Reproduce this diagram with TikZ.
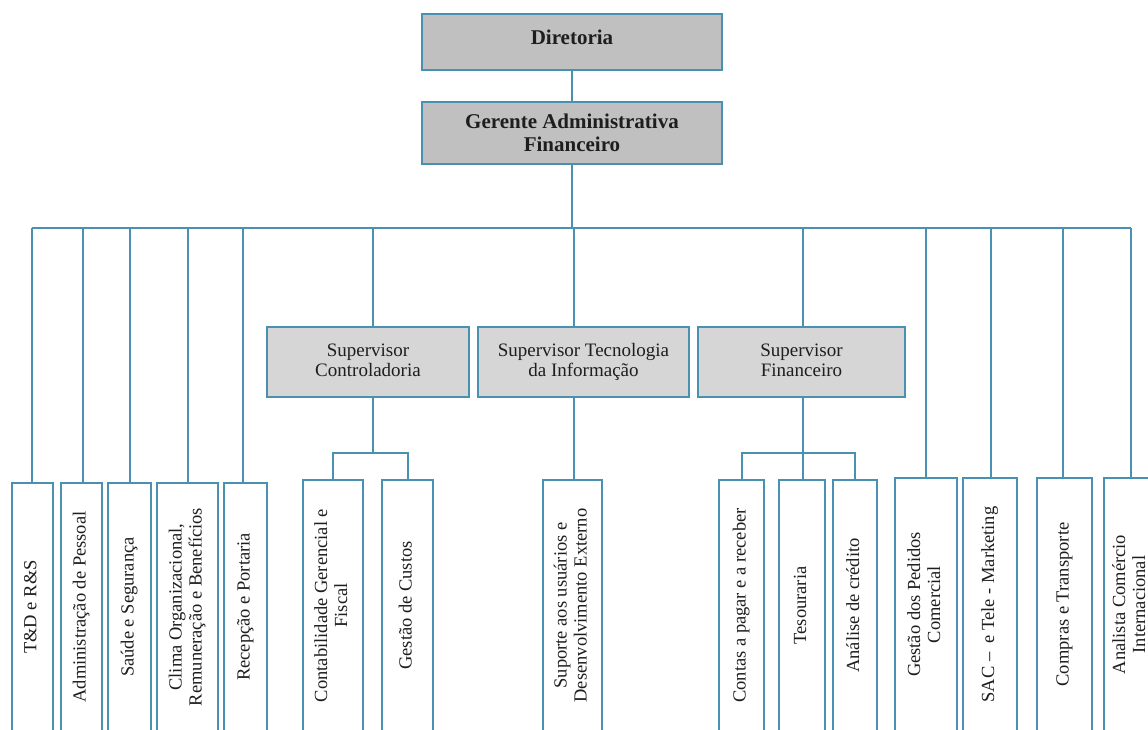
\documentclass[tikz,border=0pt]{standalone}
\usepackage{fontspec}
\setmainfont{Liberation Serif}
\usepackage{graphicx}
\definecolor{edge}{RGB}{74,144,176}
\definecolor{topfill}{RGB}{192,192,192}
\definecolor{supfill}{RGB}{214,214,214}
\definecolor{ink}{RGB}{30,30,30}
% vertical (bottom-to-top) label, one or more centred lines
\newcommand\vtext[1]{\rotatebox{90}{\begin{tabular}{@{}c@{}}#1\end{tabular}}}

\begin{document}
\begin{tikzpicture}[x=1pt,y=-1pt,
  box/.style={draw=edge, line width=1.2pt, inner sep=0pt, outer sep=0pt, rectangle, text=ink},
  topbox/.style={box, fill=topfill, font=\fontsize{21}{23}\selectfont\bfseries, align=center},
  supbox/.style={box, fill=supfill, font=\fontsize{19}{20}\selectfont, align=center},
  unitbox/.style={box, fill=white, font=\fontsize{18.5}{20}\selectfont},
  leftunit/.style={unitbox, minimum height=248pt},
  midunit/.style={unitbox, minimum height=251pt},
  rightunit/.style={unitbox, minimum height=253pt},
  link/.style={draw=edge, line width=1.3pt}]

\useasboundingbox (0,0) rectangle (1148,729);
\fill[white] (0,0) rectangle (1148,729);
\clip (0,0) rectangle (1148,729);

% management
\node[topbox, minimum width=300pt, minimum height=56pt] (dir) at (572,42) {\raisebox{9pt}{Diretoria}};
\node[topbox, minimum width=300pt, minimum height=62pt] (ger) at (572,133) {Gerente Administrativa\\Financeiro};

% supervisors
\node[supbox, minimum width=202pt, minimum height=70pt] (sc) at (368,362) {\raisebox{7pt}{\begin{tabular}{@{}c@{}}Supervisor\\Controladoria\end{tabular}}};
\node[supbox, minimum width=211pt, minimum height=70pt] (sti) at (583.5,362) {\raisebox{7pt}{\begin{tabular}{@{}c@{}}Supervisor Tecnologia\\da Informação\end{tabular}}};
\node[supbox, minimum width=207pt, minimum height=70pt] (sf) at (801.5,362) {\raisebox{7pt}{\begin{tabular}{@{}c@{}}Supervisor\\Financeiro\end{tabular}}};

% units reporting directly to the manager (left)
\node[leftunit, minimum width=41pt] (tdrs) at (32.5,607) {\vtext{T\&D e R\&S}};
\node[leftunit, minimum width=41pt] (adm) at (81.5,607) {\vtext{Administração de Pessoal}};
\node[leftunit, minimum width=43pt] (saude) at (129.5,607) {\vtext{Saúde e Segurança}};
\node[leftunit, minimum width=61pt] (clima) at (187.5,607) {\vtext{Clima Organizacional,\\Remuneração e Benefícios}};
\node[leftunit, minimum width=43pt] (recep) at (245.5,607) {\vtext{Recepção e Portaria}};

% units under the supervisors
\node[midunit, minimum width=60pt] (cont) at (333,605.5) {\vtext{Contabilidade Gerencial e\\Fiscal}};
\node[midunit, minimum width=51pt] (custos) at (407.5,605.5) {\vtext{Gestão de Custos}};
\node[midunit, minimum width=59pt] (suporte) at (572.5,605.5) {\vtext{Suporte aos usuários e\\Desenvolvimento Externo}};
\node[midunit, minimum width=45pt] (contas) at (741.5,605.5) {\vtext{Contas a pagar e a receber}};
\node[midunit, minimum width=46pt] (tes) at (802,605.5) {\vtext{Tesouraria}};
\node[midunit, minimum width=44pt] (anal) at (855,605.5) {\vtext{Análise de crédito}};

% units reporting directly to the manager (right)
\node[rightunit, minimum width=62pt] (ped) at (926,604.5) {\vtext{Gestão dos Pedidos\\Comercial}};
\node[rightunit, minimum width=54pt] (sac) at (990,604.5) {\vtext{SAC –\ \ e Tele - Marketing}};
\node[rightunit, minimum width=55pt] (compras) at (1064.5,604.5) {\vtext{Compras e Transporte}};
\node[rightunit, minimum width=54pt] (intl) at (1131,604.5) {\vtext{Analista Comércio\\Internacional}};

% bus, drop columns and junction points
\coordinate (busL) at (32,228);
\coordinate (busR) at (1131,228);
\coordinate (xtd) at (32,228);
\coordinate (xad) at (83,228);
\coordinate (xsa) at (130,228);
\coordinate (xcl) at (188,228);
\coordinate (xrc) at (243,228);
\coordinate (xsc) at (373,228);
\coordinate (xti) at (574,228);
\coordinate (xpd) at (926,228);
\coordinate (xsac) at (991,228);
\coordinate (xcp) at (1063,228);
\coordinate (xin) at (1131,228);
\coordinate (jc) at (373,453);
\coordinate (jf) at (803,453);
\coordinate (jcl) at (333,453);
\coordinate (jcr) at (408,453);
\coordinate (jfl) at (742,453);
\coordinate (jfr) at (855,453);

\draw[link] (dir) -- (ger);
\draw[link] (ger.south) -- (ger.south |- busL);
\draw[link] (busL) -- (busR);

\draw[link] (xtd) -- (xtd |- tdrs.north);
\draw[link] (xad) -- (xad |- adm.north);
\draw[link] (xsa) -- (xsa |- saude.north);
\draw[link] (xcl) -- (xcl |- clima.north);
\draw[link] (xrc) -- (xrc |- recep.north);
\draw[link] (xpd) -- (xpd |- ped.north);
\draw[link] (xsac) -- (xsac |- sac.north);
\draw[link] (xcp) -- (xcp |- compras.north);
\draw[link] (xin) -- (xin |- intl.north);

% controllership
\draw[link] (xsc) -- (xsc |- sc.north);
\draw[link] (sc.south -| jc) -- (jc);
\draw[link] (jcl |- cont.north) -- (jcl) -- (jcr) -- (jcr |- custos.north);

% information technology
\draw[link] (xti) -- (xti |- sti.north);
\draw[link] (sti.south -| xti) -- (xti |- suporte.north);

% finance
\draw[link] (jf |- busL) -- (jf |- sf.north);
\draw[link] (sf.south -| jf) -- (jf) -- (jf |- tes.north);
\draw[link] (jfl |- contas.north) -- (jfl) -- (jfr) -- (jfr |- anal.north);
\end{tikzpicture}
\end{document}
